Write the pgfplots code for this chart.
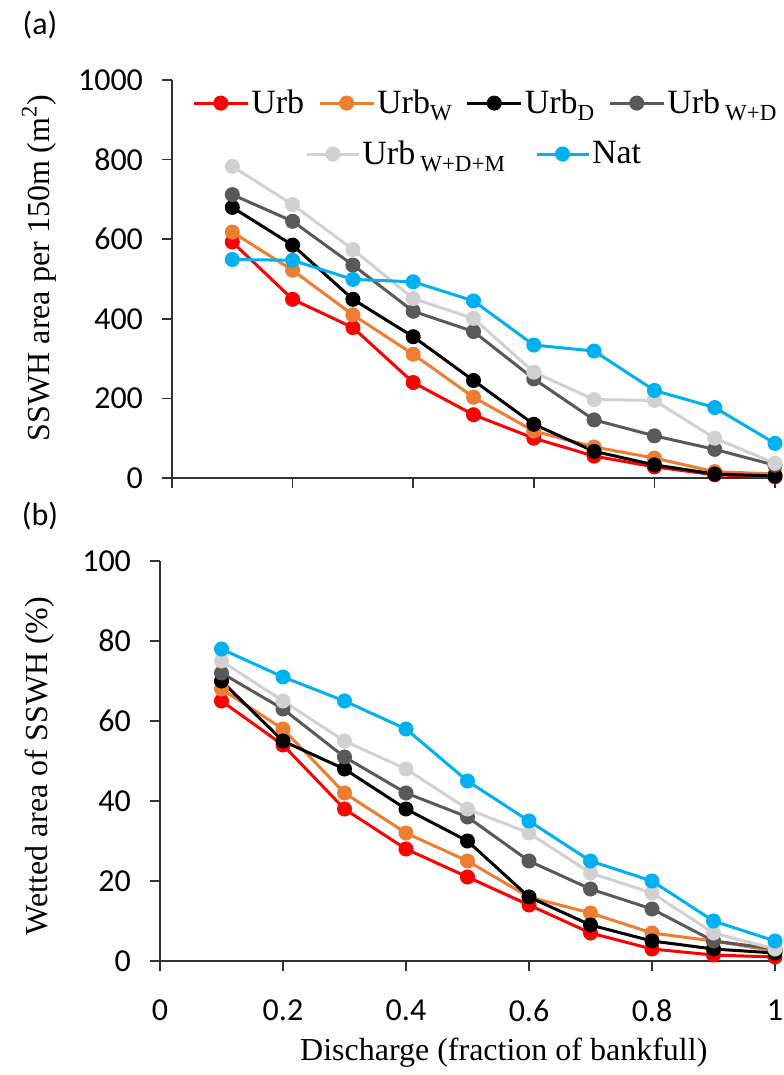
\documentclass[border=0pt]{standalone}
\usepackage{fontspec}
\setmainfont{Liberation Serif}
\newfontfamily\carlito{Carlito}
\usepackage{pgfplots}
\usepackage{pgfplotstable}
\pgfplotsset{compat=1.18}

\definecolor{cUrb}{RGB}{255,0,0}
\definecolor{cUrbW}{RGB}{237,125,49}
\definecolor{cUrbD}{RGB}{0,0,0}
\definecolor{cUrbWD}{RGB}{89,89,89}
\definecolor{cUrbWDM}{RGB}{210,208,208}
\definecolor{cNat}{RGB}{0,176,240}
\definecolor{axgray}{RGB}{50,50,50}

% (a) SSWH area per 150 m
\pgfplotstableread{
x   urb urbw urbd urbwd urbwdm nat
0.1 593 618  680  712   783    549
0.2 449 522  585  645   687    547
0.3 378 410  449  535   574    499
0.4 240 311  355  419   451    493
0.5 159 203  245  368   401    445
0.6 100 118  135  249   266    334
0.7 55  78   67   146   197    319
0.8 28  50   33   106   195    220
0.9 8   16   10   72    100    177
1.0 3   10   5    32    37     87
}\areatab

% (b) wetted area of SSWH
\pgfplotstableread{
x   urb urbw urbd urbwd urbwdm nat
0.1 65  68   70   72    75     78
0.2 54  58   55   63    65     71
0.3 38  42   48   51    55     65
0.4 28  32   38   42    48     58
0.5 21  25   30   36    38     45
0.6 14  16   16   25    32     35
0.7 7   12   9    18    22     25
0.8 3   7    5    13    17     20
0.9 1.5 5    3    5     7      10
1.0 1   2.5  2    3     3      5
}\wettab

\newcommand\bigfont{\fontsize{16}{19}\selectfont}
\newcommand\legfont{\fontsize{17}{20}\selectfont}
\newcommand\sbs[1]{\raisebox{-3.5pt}{\fontsize{11.5}{12}\selectfont #1}}

\pgfplotsset{
  panel/.style={
    scale only axis, clip=false,
    axis x line*=bottom, axis y line*=left,
    axis line style={axgray, line width=0.8pt},
    every tick/.style={axgray, line width=0.8pt},
    tick align=outside, major tick length=5pt,
    xmin=0, xmax=1, xtick={0,0.2,0.4,0.6,0.8,1},
    /pgf/number format/assume math mode=true,
    /pgf/number format/1000 sep={},
    ticklabel style={font=\carlito\bigfont, text=black},
    yticklabel style={xshift=-6pt},
    xticklabel style={yshift=-11pt},
    legend style={draw=none, fill=none, inner sep=0pt, font=\legfont,
      nodes={inner sep=1pt},
      /tikz/every even column/.append style={column sep=6pt}},
    legend image code/.code={
      \draw[mark repeat=2, mark phase=2] plot coordinates {(0pt,0pt) (13.5pt,0pt) (27pt,0pt)};},
  },
  ser/.style={mark=*, line width=1.5pt, mark size=3pt, mark options={solid}},
}

\begin{document}
\begin{tikzpicture}
\path[use as bounding box] (0,0) rectangle (391.5pt,-537.5pt);

\begin{axis}[panel, at={(86pt,-239pt)}, anchor=south west,
  width=301.5pt, height=199pt,
  ymin=0, ymax=1000, ytick={0,200,...,1000},
  xticklabels={},
  ylabel={SSWH area per 150m (m\textsuperscript{2})},
  every axis y label/.style={at={(axis description cs:-0.2206,0.528)}, anchor=center, rotate=90, font=\bigfont},
  legend columns=4,
  legend style={at={(axis description cs:0.033,0.942)}, anchor=west},
]
\addplot[ser, cUrb]    table[x=x, y=urb]    {\areatab};
\addplot[ser, cUrbW]   table[x=x, y=urbw]   {\areatab};
\addplot[ser, cUrbD]   table[x=x, y=urbd]   {\areatab};
\addplot[ser, cUrbWD]  table[x=x, y=urbwd]  {\areatab};
\addplot[ser, cUrbWDM] table[x=x, y=urbwdm] {\areatab};
\addplot[ser, cNat]    table[x=x, y=nat]    {\areatab};
\legend{Urb, Urb\sbs{W}, Urb\sbs{D}, Urb\hspace{2.5pt}\sbs{W+D}}
\end{axis}

% second legend row
\begin{axis}[panel, at={(86pt,-239pt)}, anchor=south west,
  width=301.5pt, height=199pt, hide axis,
  ymin=0, ymax=1000,
  legend columns=2,
  legend style={at={(axis description cs:0.2206,0.814)}, anchor=west,
    /tikz/every even column/.append style={column sep=14pt}},
  legend image code/.code={
    \draw[mark repeat=2, mark phase=2] plot coordinates {(0pt,0pt) (13pt,0pt) (26pt,0pt)};},
]
\addlegendimage{ser, cUrbWDM}
\addlegendentry{Urb\hspace{2.5pt}\sbs{W+D+M}}
\addlegendimage{ser, cNat}
\addlegendentry{Nat}
\end{axis}

\begin{axis}[panel, at={(80pt,-480.5pt)}, anchor=south west,
  width=307.5pt, height=200pt,
  ymin=0, ymax=100, ytick={0,20,...,100},
  xlabel={Discharge (fraction of bankfull)},
  ylabel={Wetted area of SSWH (\%)},
  every axis y label/.style={at={(axis description cs:-0.195,0.4875)}, anchor=center, rotate=90, font=\bigfont},
  every axis x label/.style={at={(axis description cs:0.559,-0.23)}, anchor=center, font=\bigfont},
]
\addplot[ser, cUrb]    table[x=x, y=urb]    {\wettab};
\addplot[ser, cUrbW]   table[x=x, y=urbw]   {\wettab};
\addplot[ser, cUrbD]   table[x=x, y=urbd]   {\wettab};
\addplot[ser, cUrbWD]  table[x=x, y=urbwd]  {\wettab};
\addplot[ser, cUrbWDM] table[x=x, y=urbwdm] {\wettab};
\addplot[ser, cNat]    table[x=x, y=nat]    {\wettab};
\end{axis}

\node[font=\carlito\bigfont] at (20pt,-12.5pt) {(a)};
\node[font=\carlito\bigfont] at (20pt,-258pt) {(b)};
\end{tikzpicture}
\end{document}
